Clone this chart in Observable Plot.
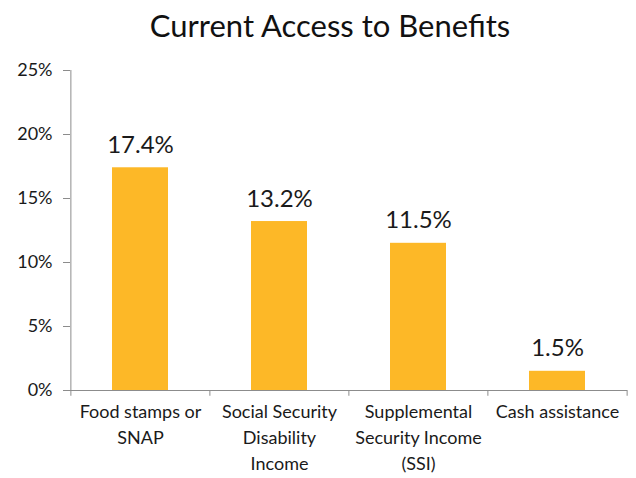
<!DOCTYPE html>
<html>
<head>
<meta charset="utf-8">
<script src="https://cdn.jsdelivr.net/npm/d3@7"></script>
<script src="https://cdn.jsdelivr.net/npm/@observablehq/plot@0.6"></script>
<style>
  html, body { margin: 0; padding: 0; background: #fff; }
  #title { height: 50px; box-sizing: border-box; padding-top: 7px; text-align: center;
           font-family: Lato, sans-serif; font-size: 31px; line-height: 1.2; color: #111; width: 636px; padding-left: 24px; }
</style>
</head>
<body>
<div id="title">Current Access to Benefits</div>
<div id="chart"></div>
<script>
const categories = ["Food stamps or\nSNAP", "Social Security\nDisability\nIncome", "Supplemental\nSecurity Income\n(SSI)", "Cash assistance"];
const values = [17.4, 13.2, 11.5, 1.5];
const yTicks = [0, 5, 10, 15, 20, 25];

const data = categories.map((c, i) => ({cat: c, value: values[i]}));

const W = 636, ML = 70, MR = 9;
const step = (W - ML - MR) / categories.length;
const axisColor = "#8c8c8c";

const chart = Plot.plot({
  width: W,
  height: 428,
  marginLeft: ML,
  marginRight: MR,
  marginTop: 20,
  marginBottom: 88,
  style: {fontFamily: "Lato, sans-serif", background: "white", color: "#1a1a1a"},
  x: {domain: categories, paddingInner: 0.6, paddingOuter: 0.3, axis: null, label: null},
  y: {domain: [0, 25], axis: null, label: null},
  marks: [
    Plot.barY(data, {x: "cat", y: "value", fill: "#FDB827"}),
    Plot.ruleY([0], {stroke: axisColor}),
    Plot.ruleX(categories.slice(0, 1), {x: d => d, y1: -0.45, y2: 25, dx: -step / 2, stroke: axisColor}),
    Plot.ruleX(categories.slice(1), {x: d => d, y1: 0, y2: -0.45, dx: -step / 2, stroke: axisColor}),
    Plot.ruleX(categories.slice(-1), {x: d => d, y1: 0, y2: -0.45, dx: step / 2, stroke: axisColor}),
    Plot.axisY({ticks: yTicks, tickFormat: d => d + "%", tickSize: 7, tickPadding: 11, fontSize: 18, stroke: axisColor, fill: "#1a1a1a", label: null}),
    Plot.axisX({tickSize: 0, tickPadding: 9, fontSize: 18, lineHeight: 1.45, fill: "#1a1a1a", label: null}),
    Plot.text(data, {x: "cat", y: "value", text: d => d.value.toFixed(1) + "%", dy: -15, lineAnchor: "bottom", fontSize: 24, fill: "#1a1a1a"})
  ]
});
document.getElementById("chart").appendChild(chart);
</script>
</body>
</html>
